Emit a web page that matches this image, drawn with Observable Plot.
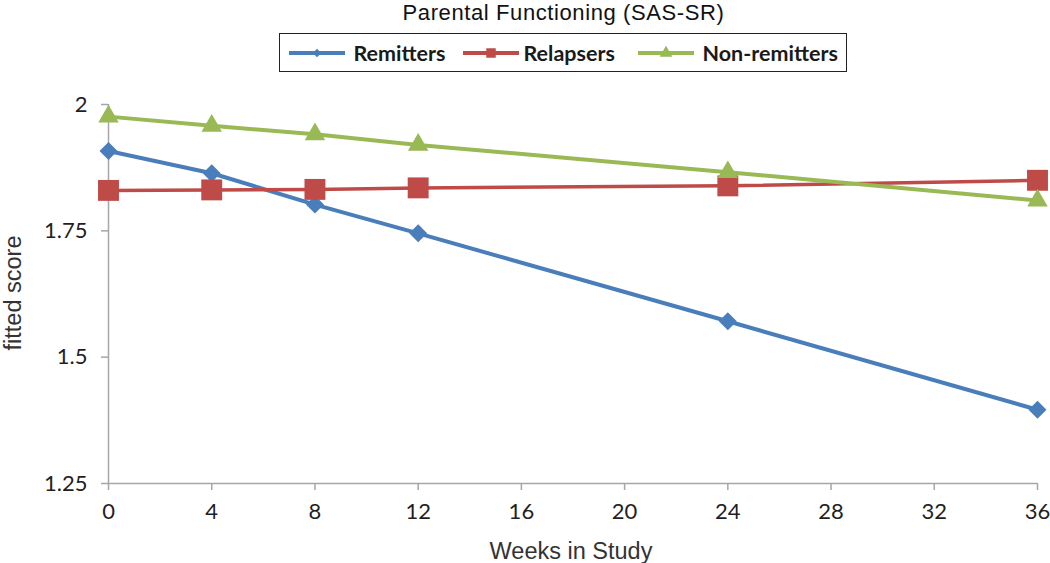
<!DOCTYPE html>
<html><head><meta charset="utf-8">
<script src="https://cdn.jsdelivr.net/npm/d3@7"></script>
<script src="https://cdn.jsdelivr.net/npm/@observablehq/plot@0.6"></script>
<style>
body{margin:0;background:#fff;}
#wrap{position:relative;width:1050px;height:563px;overflow:hidden;background:#fff}
#title{position:absolute;left:563.5px;top:2px;transform:translateX(-50%);font:22px "Liberation Sans",Arial,sans-serif;letter-spacing:0.6px;line-height:22px;white-space:nowrap;color:#111}
#legend{position:absolute;left:279px;top:33px;width:566px;height:37px;border:1.5px solid #222;box-sizing:content-box}
.item{position:absolute;top:0;height:37px;display:flex;align-items:center}
.lab{font:bold 21.5px Lato,sans-serif;color:#1a1a1a;white-space:nowrap}
#chart{position:absolute;left:0;top:85px}
</style></head>
<body>
<div id="wrap">
  <div id="title"></div>
  <div id="legend"></div>
  <div id="chart"></div>
</div>
<script>
// ---- data ----
const weeks = [0, 4, 8, 12, 24, 36];
const remitters = [1.908, 1.864, 1.802, 1.745, 1.571, 1.396];
const relapsers = [1.830, 1.831, 1.832, 1.835, 1.839, 1.850];
const nonRemitters = [1.976, 1.958, 1.941, 1.920, 1.866, 1.810];
const seriesNames = ["Remitters", "Relapsers", "Non-remitters"];
const xTicks = [0, 4, 8, 12, 16, 20, 24, 28, 32, 36];
const yTicks = [1.25, 1.5, 1.75, 2];
const yTickLabels = ["1.25", "1.5", "1.75", "2"];
const chartTitle = "Parental Functioning (SAS-SR)";
const xLabel = "Weeks in Study";
const yLabel = "fitted score";

// ---- styles ----
const colors = ["#4a7ebb", "#be4b48", "#98b954"];
const symbols = ["diamond2", "square", "triangle"];
const radii = [8.1, 11.8, 7.6];
const legendSymbols = [d3.symbolDiamond2, d3.symbolSquare, d3.symbolTriangle];
const legendSizes = [45, 90, 70];
const legendPos = [[8.5, 73.5], [182.5, 243.5], [357.5, 422.5]];

const allSeries = [remitters, relapsers, nonRemitters];
const rows = [];
allSeries.forEach((vals, i) => vals.forEach((v, j) => rows.push({series: seriesNames[i], week: weeks[j], score: v})));

document.getElementById("title").textContent = chartTitle;

// legend
const legend = document.getElementById("legend");
seriesNames.forEach((name, i) => {
  const sw = document.createElement("div");
  sw.className = "item";
  sw.style.left = legendPos[i][0] + "px";
  sw.innerHTML = `<svg width="56" height="20"><line x1="0" x2="56" y1="10" y2="10" stroke="${colors[i]}" stroke-width="4"/><path transform="translate(28,10)" d="${d3.symbol(legendSymbols[i], legendSizes[i])()}" fill="${colors[i]}"/></svg>`;
  legend.appendChild(sw);
  const lb = document.createElement("div");
  lb.className = "item";
  lb.style.left = legendPos[i][1] + "px";
  lb.innerHTML = `<span class="lab">${name}</span>`;
  legend.appendChild(lb);
});

const marks = [
  Plot.ruleX([0], {stroke: "#a6a6a6", strokeWidth: 1.5}),
  Plot.ruleY([1.25], {stroke: "#a6a6a6", strokeWidth: 1.5}),
  Plot.axisY({ticks: yTicks, tickFormat: d => yTickLabels[yTicks.indexOf(d)], tickSize: 7, tickPadding: 14, stroke: "#a6a6a6", strokeWidth: 1.5, label: null, fontSize: 22, fontFamily: "Lato, sans-serif", fill: "#1f1f1f"}),
  Plot.axisX({ticks: xTicks, tickFormat: d => String(d), tickSize: 7, tickPadding: 13, stroke: "#a6a6a6", strokeWidth: 1.5, label: null, fontSize: 22, fontFamily: "Lato, sans-serif", fill: "#1f1f1f"}),
  Plot.text([xLabel], {text: d => d, frameAnchor: "bottom", textAnchor: "middle", dy: 75, dx: -2, lineAnchor: "bottom", fontSize: 23.5, fontFamily: "Liberation Sans, Arial, sans-serif", fill: "#333"}),
  Plot.text([yLabel], {text: d => d, frameAnchor: "left", textAnchor: "middle", rotate: -90, dx: -94.8, dy: -1, fontSize: 23.5, fontFamily: "Liberation Sans, Arial, sans-serif", fill: "#333"})
];
seriesNames.forEach((name, i) => {
  const data = rows.filter(d => d.series === name);
  marks.push(Plot.line(data, {x: "week", y: "score", stroke: colors[i], strokeWidth: i === 1 ? 3.5 : 4}));
  marks.push(Plot.dot(data, {x: "week", y: "score", symbol: symbols[i], fill: colors[i], r: radii[i], stroke: "none"}));
});

const chart = Plot.plot({
  width: 1050,
  height: 478,
  marginTop: 19,
  marginBottom: 80,
  marginLeft: 108,
  marginRight: 13,
  x: {domain: [0, 36]},
  y: {domain: [1.25, 2]},
  style: {background: "#fff", color: "#1f1f1f", overflow: "visible"},
  marks
});
document.getElementById("chart").appendChild(chart);
</script>
</body></html>
